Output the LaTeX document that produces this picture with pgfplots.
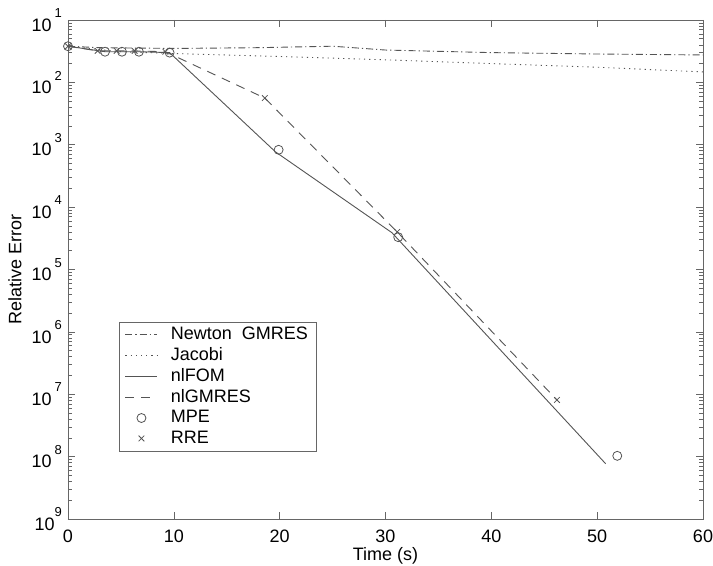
\documentclass[border=0pt]{standalone}
\usepackage{fontspec}
\setmainfont{Liberation Sans}
\usepackage{pgfplots}
\pgfplotsset{compat=1.18}
\definecolor{lc}{gray}{0.33}
\definecolor{ac}{gray}{0.40}
\pgfplotsset{
  lineleg/.style={legend image code/.code={\draw[##1] (0pt,0pt) -- (32pt,0pt);}},
  markleg/.style={legend image code/.code={\draw[##1] plot coordinates {(16pt,0pt)};}},
}
\newcommand{\ex}[1]{\raisebox{0.75em}{\fontsize{13}{14}\selectfont #1}}
\begin{document}
\fontsize{18}{21}\selectfont
\begin{tikzpicture}
\begin{axis}[name=ax,
  scale only axis, width=635pt, height=499pt,
  xmin=0, xmax=60, ymode=log, ymin=1e-9, ymax=1e-1,
  xtick={0,10,...,60},
  ytick={1e-9,1e-8,1e-7,1e-6,1e-5,1e-4,1e-3,1e-2,1e-1},
  yticklabels={10\ex{9},
    10\,\ex{8}, 10\,\ex{7}, 10\,\ex{6}, 10\,\ex{5},
    10\,\ex{4}, 10\,\ex{3}, 10\,\ex{2}, 10\,\ex{1}},
  /pgf/number format/assume math mode=true,
  ticklabel style={font=\fontsize{18}{21}\selectfont},
  xticklabel style={yshift=-5pt},
  axis line style={ac}, tick style={ac, line width=0.6pt},
  tick align=inside, major tick length=7pt, minor tick length=4pt,
  xlabel={Time (s)}, ylabel={Relative Error},
  xlabel style={at={(axis description cs:0.5,-0.074)}, anchor=center},
  ylabel style={at={(axis description cs:-0.0835,0.5)}, anchor=center},
  legend style={at={(axis description cs:0.080,0.136)}, anchor=south west,
    draw=ac, fill=white, font=\fontsize{18}{21}\selectfont,
    inner xsep=6pt, inner ysep=3pt, row sep=1.3pt, column sep=11pt},
  legend cell align=left,
  lineleg,
]
\addplot[lc, line width=0.9pt, dash pattern=on 7pt off 3pt on 1.2pt off 3pt] coordinates {
 (0,3.8e-2) (3,3.6e-2) (10,3.5e-2) (18,3.6e-2) (25,3.8e-2) (30,3.3e-2) (40,3.0e-2) (50,2.85e-2) (60,2.75e-2)};
\addlegendentry{Newton~~GMRES}
\addplot[lc, line width=0.9pt, dash pattern=on 1.2pt off 4pt] coordinates {
 (0,3.8e-2) (5,3.1e-2) (10,2.9e-2) (20,2.6e-2) (30,2.3e-2) (40,2.0e-2) (50,1.75e-2) (60,1.47e-2)};
\addlegendentry{Jacobi}
\addplot[lc, line width=0.9pt] coordinates {
 (0,3.8e-2) (3.5,3.1e-2) (5.1,3.1e-2) (6.7,3.1e-2) (9.6,3.0e-2) (19.6,7.7e-4) (30.6,3.9e-5) (50.8,7.7e-9)};
\addlegendentry{nlFOM}
\addplot[lc, line width=0.9pt, dash pattern=on 9pt off 7pt] coordinates {
 (0,3.8e-2) (2.8,3.2e-2) (4.6,3.2e-2) (6.3,3.2e-2) (9.2,3.1e-2) (18.6,5.6e-3) (31.1,4.0e-5) (46.2,8.1e-8)};
\addlegendentry{nlGMRES}
\addplot[lc, only marks, mark=o, mark size=4.5pt, mark options={line width=0.8pt}, markleg] coordinates {
 (0,3.8e-2) (3.5,3.1e-2) (5.1,3.1e-2) (6.7,3.1e-2) (9.6,3.0e-2) (19.9,8.3e-4) (31.2,3.3e-5) (51.9,1.03e-8)};
\addlegendentry{MPE}
\addplot[lc, only marks, mark=x, mark size=4pt, mark options={line width=0.8pt}, markleg] coordinates {
 (0,3.8e-2) (2.8,3.2e-2) (4.6,3.2e-2) (6.3,3.2e-2) (9.2,3.1e-2) (18.6,5.6e-3) (31.1,4.0e-5) (46.2,8.1e-8)};
\addlegendentry{RRE}
\end{axis}
\pgfresetboundingbox
\path[use as bounding box] ([xshift=-68pt,yshift=-47pt]ax.south west) rectangle ([xshift=10pt,yshift=20pt]ax.north east);
\end{tikzpicture}
\end{document}
